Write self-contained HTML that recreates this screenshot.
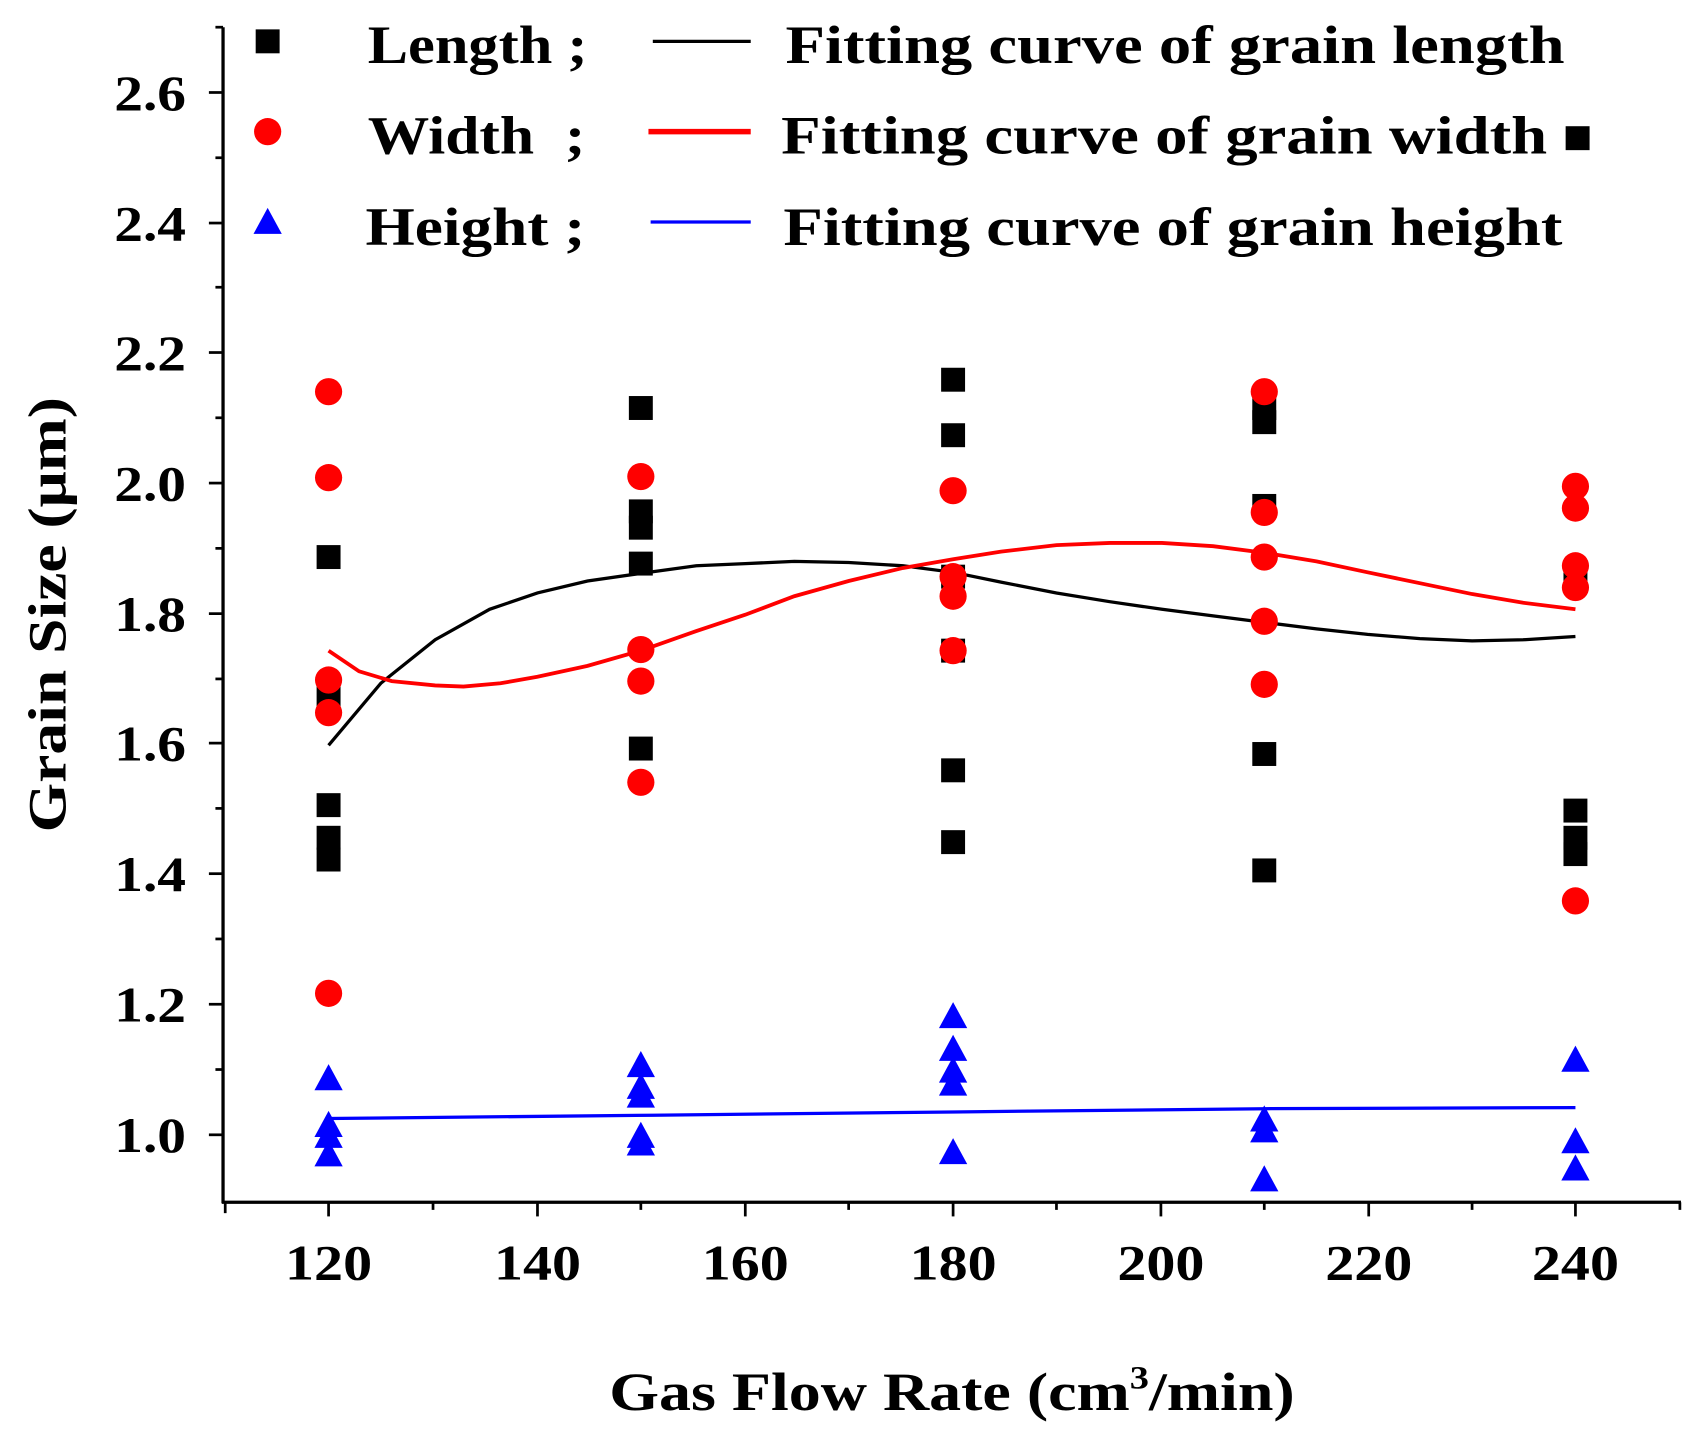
<!DOCTYPE html>
<html><head><meta charset="utf-8"><style>html,body{margin:0;padding:0;background:#fff}svg{display:block}</style></head>
<body>
<svg width="1706" height="1440" viewBox="0 0 1568 1323.5" preserveAspectRatio="none" xmlns="http://www.w3.org/2000/svg" font-family="'Liberation Serif',serif" font-weight="bold">
<defs>
<rect id="s" x="-11" y="-11" width="22" height="22" fill="#000"/>
<circle id="c" r="12.5" fill="#f00"/>
<polygon id="t" points="0,-14 13,10 -13,10" fill="#00f"/>
</defs>
<g stroke="#000" stroke-width="3" fill="none">
<line x1="205" y1="25" x2="205" y2="1106"/>
<line x1="204" y1="1105" x2="1545" y2="1105"/>
</g>
<g stroke="#000" stroke-width="2.5">
<line x1="207" y1="1105" x2="207" y2="1115"/><line x1="302" y1="1105" x2="302" y2="1118"/><line x1="398" y1="1105" x2="398" y2="1112"/><line x1="494" y1="1105" x2="494" y2="1118"/><line x1="589" y1="1105" x2="589" y2="1112"/><line x1="685" y1="1105" x2="685" y2="1118"/><line x1="780" y1="1105" x2="780" y2="1112"/><line x1="876" y1="1105" x2="876" y2="1118"/><line x1="971" y1="1105" x2="971" y2="1112"/><line x1="1067" y1="1105" x2="1067" y2="1118"/><line x1="1162" y1="1105" x2="1162" y2="1112"/><line x1="1258" y1="1105" x2="1258" y2="1118"/><line x1="1353" y1="1105" x2="1353" y2="1112"/><line x1="1448" y1="1105" x2="1448" y2="1118"/><line x1="1544" y1="1105" x2="1544" y2="1112"/>
<line x1="192" y1="1043" x2="205" y2="1043"/><line x1="198" y1="983" x2="205" y2="983"/><line x1="192" y1="923" x2="205" y2="923"/><line x1="198" y1="863" x2="205" y2="863"/><line x1="192" y1="803" x2="205" y2="803"/><line x1="198" y1="743" x2="205" y2="743"/><line x1="192" y1="683" x2="205" y2="683"/><line x1="198" y1="624" x2="205" y2="624"/><line x1="192" y1="564" x2="205" y2="564"/><line x1="198" y1="504" x2="205" y2="504"/><line x1="192" y1="444" x2="205" y2="444"/><line x1="198" y1="384" x2="205" y2="384"/><line x1="192" y1="324" x2="205" y2="324"/><line x1="198" y1="264" x2="205" y2="264"/><line x1="192" y1="205" x2="205" y2="205"/><line x1="198" y1="145" x2="205" y2="145"/><line x1="192" y1="85" x2="205" y2="85"/><line x1="198" y1="25" x2="205" y2="25"/>
</g>
<g font-size="46">
<text x="105" y="1059" textLength="66" lengthAdjust="spacingAndGlyphs">1.0</text><text x="105" y="939" textLength="66" lengthAdjust="spacingAndGlyphs">1.2</text><text x="105" y="819" textLength="66" lengthAdjust="spacingAndGlyphs">1.4</text><text x="105" y="699" textLength="66" lengthAdjust="spacingAndGlyphs">1.6</text><text x="105" y="580" textLength="66" lengthAdjust="spacingAndGlyphs">1.8</text><text x="105" y="460" textLength="66" lengthAdjust="spacingAndGlyphs">2.0</text><text x="105" y="340" textLength="66" lengthAdjust="spacingAndGlyphs">2.2</text><text x="105" y="221" textLength="66" lengthAdjust="spacingAndGlyphs">2.4</text><text x="105" y="101" textLength="66" lengthAdjust="spacingAndGlyphs">2.6</text>
</g>
<g font-size="46">
<text x="262" y="1176" textLength="80" lengthAdjust="spacingAndGlyphs">120</text><text x="454" y="1176" textLength="80" lengthAdjust="spacingAndGlyphs">140</text><text x="645" y="1176" textLength="80" lengthAdjust="spacingAndGlyphs">160</text><text x="836" y="1176" textLength="80" lengthAdjust="spacingAndGlyphs">180</text><text x="1027" y="1176" textLength="80" lengthAdjust="spacingAndGlyphs">200</text><text x="1218" y="1176" textLength="80" lengthAdjust="spacingAndGlyphs">220</text><text x="1408" y="1176" textLength="80" lengthAdjust="spacingAndGlyphs">240</text>
</g>
<text x="560" y="1296" font-size="50" textLength="630" lengthAdjust="spacingAndGlyphs">Gas Flow Rate (cm<tspan font-size="30" dy="-20">3</tspan><tspan dy="20">/min)</tspan></text>
<text transform="translate(60,565) rotate(-90)" font-size="50" text-anchor="middle" textLength="400" lengthAdjust="spacingAndGlyphs">Grain Size (μm)</text>
<g fill="none" stroke-width="3">
<polyline stroke="#000" points="302,685 350,628 400,588 450,560 494,545 540,534 589,527 640,520 685,518 730,516 780,517 830,520 876,526 920,535 971,545 1020,553 1068,560 1115,566 1162,572 1210,578 1257,583 1305,587 1353,589 1400,588 1448,585"/>
<polyline stroke="#f00" stroke-width="3.5" points="302,598 330,617 360,626 400,630 426,631 460,628 494,622 540,612 589,598 640,580 685,565 730,548 780,534 830,522 876,514 920,507 971,501 1020,499 1068,499 1115,502 1162,508 1210,516 1257,526 1305,536 1353,546 1400,554 1448,560"/>
<polyline stroke="#00f" stroke-width="3" points="302,1028 600,1025 876,1022 1162,1019 1448,1018"/>
</g>
<g>
<use href="#s" x="302" y="512"/><use href="#s" x="302" y="640"/><use href="#s" x="302" y="740"/><use href="#s" x="302" y="770"/><use href="#s" x="302" y="790"/>
<use href="#s" x="589" y="375"/><use href="#s" x="589" y="470"/><use href="#s" x="589" y="485"/><use href="#s" x="589" y="518"/><use href="#s" x="589" y="688"/>
<use href="#s" x="876" y="349"/><use href="#s" x="876" y="400"/><use href="#s" x="876" y="530"/><use href="#s" x="876" y="598"/><use href="#s" x="876" y="708"/><use href="#s" x="876" y="774"/>
<use href="#s" x="1162" y="375"/><use href="#s" x="1162" y="388"/><use href="#s" x="1162" y="465"/><use href="#s" x="1162" y="693"/><use href="#s" x="1162" y="800"/>
<use href="#s" x="1448" y="745"/><use href="#s" x="1448" y="770"/><use href="#s" x="1448" y="785"/><use href="#s" x="1448" y="530"/>
<use href="#c" x="302" y="360"/><use href="#c" x="302" y="439"/><use href="#c" x="302" y="625"/><use href="#c" x="302" y="655"/><use href="#c" x="302" y="913"/>
<use href="#c" x="589" y="438"/><use href="#c" x="589" y="597"/><use href="#c" x="589" y="626"/><use href="#c" x="589" y="719"/>
<use href="#c" x="876" y="451"/><use href="#c" x="876" y="530"/><use href="#c" x="876" y="548"/><use href="#c" x="876" y="598"/>
<use href="#c" x="1162" y="360"/><use href="#c" x="1162" y="471"/><use href="#c" x="1162" y="512"/><use href="#c" x="1162" y="571"/><use href="#c" x="1162" y="629"/>
<use href="#c" x="1448" y="447"/><use href="#c" x="1448" y="467"/><use href="#c" x="1448" y="520"/><use href="#c" x="1448" y="540"/><use href="#c" x="1448" y="828"/>
<use href="#t" x="302" y="992"/><use href="#t" x="302" y="1035"/><use href="#t" x="302" y="1045"/><use href="#t" x="302" y="1062"/>
<use href="#t" x="589" y="980"/><use href="#t" x="589" y="1000"/><use href="#t" x="589" y="1008"/><use href="#t" x="589" y="1045"/><use href="#t" x="589" y="1052"/>
<use href="#t" x="876" y="935"/><use href="#t" x="876" y="965"/><use href="#t" x="876" y="985"/><use href="#t" x="876" y="997"/><use href="#t" x="876" y="1060"/>
<use href="#t" x="1162" y="1030"/><use href="#t" x="1162" y="1040"/><use href="#t" x="1162" y="1085"/>
<use href="#t" x="1448" y="975"/><use href="#t" x="1448" y="1050"/><use href="#t" x="1448" y="1075"/>
</g>
<use href="#s" x="246" y="38"/><use href="#c" x="246" y="121"/><use href="#t" x="246" y="205"/><use href="#s" x="1450" y="127"/>
<line x1="600" y1="38" x2="690" y2="38" stroke="#000" stroke-width="3"/>
<line x1="596" y1="121" x2="690" y2="121" stroke="#f00" stroke-width="5"/>
<line x1="598" y1="204" x2="690" y2="204" stroke="#00f" stroke-width="3"/>
<g font-size="50">
<text x="338" y="58" textLength="202" lengthAdjust="spacingAndGlyphs">Length ;</text><text x="338" y="141" textLength="200" lengthAdjust="spacingAndGlyphs">Width&#160; ;</text><text x="336" y="225" textLength="202" lengthAdjust="spacingAndGlyphs">Height ;</text>
<text x="722" y="58" textLength="716" lengthAdjust="spacingAndGlyphs">Fitting curve of grain length</text>
<text x="718" y="141" textLength="704" lengthAdjust="spacingAndGlyphs">Fitting curve of grain width</text>
<text x="720" y="225" textLength="716" lengthAdjust="spacingAndGlyphs">Fitting curve of grain height</text>
</g>
</svg>
</body></html>
